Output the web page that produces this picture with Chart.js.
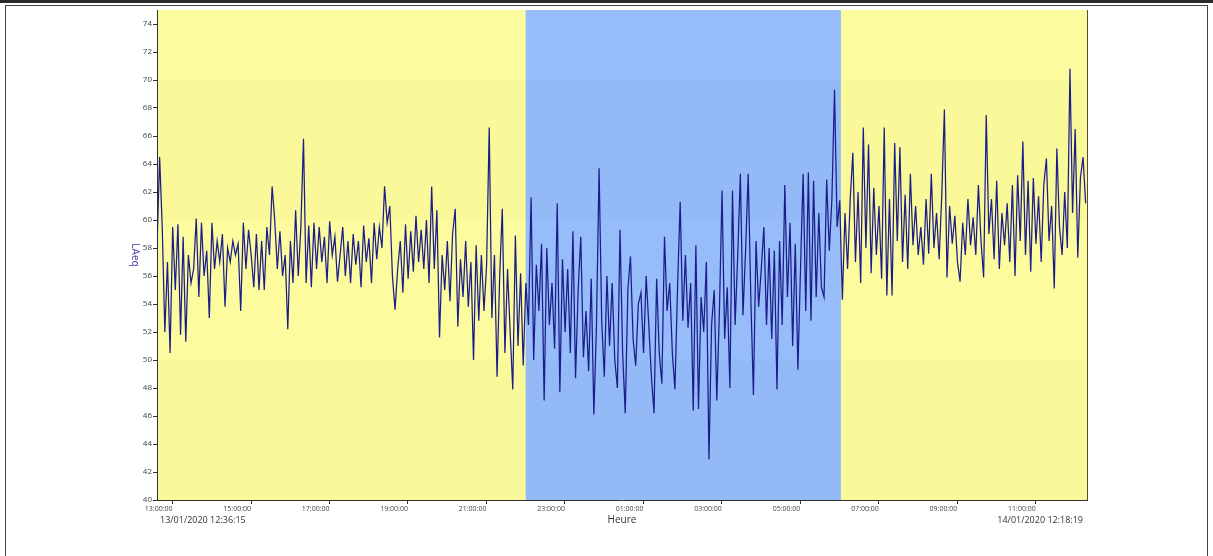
<!DOCTYPE html>
<html>
<head>
<meta charset="utf-8">
<script src="https://cdn.jsdelivr.net/npm/chart.js@4.4.0/dist/chart.umd.min.js"></script>
<style>
    html, body { margin: 0; padding: 0; background: #fff; }
    #wrap { position: relative; width: 1213px; height: 556px; overflow: hidden; }
    #barre { position: absolute; left: 0; top: 0; width: 1213px; height: 3px; background: #2b2b2b; }
    #cadre { position: absolute; left: 5px; top: 5px; width: 1201px; height: 600px; border: 1px solid #444; }
    canvas { position: absolute; left: 0; top: 0; }
</style>
</head>
<body>
<div id="wrap">
    <div id="barre"></div>
    <div id="cadre"></div>
    <canvas id="graphLAeq" width="1213" height="556"></canvas>
</div>
<script>
// Mesure LAeq du 13/01/2020 12:36:15 au 14/01/2020 12:18:19 (une valeur toutes les 4 min)
const debut = 12 * 3600 + 36 * 60 + 15;            // secondes depuis le 13/01 00:00
const fin = 24 * 3600 + 12 * 3600 + 18 * 60 + 19;
const pas = 240;

const laeqApresMidi = [
    58.0, 64.5, 59.5, 52.0, 57.0, 50.5, 59.5, 55.0, 59.7, 51.8,
    58.8, 51.3, 57.5, 55.5, 56.5, 60.1, 54.5, 59.8, 56.0, 57.8,
    53.0, 59.8, 56.5, 58.5, 57.0, 59.0, 53.8, 58.0, 57.0, 58.5,
    57.5, 58.3, 53.5, 59.8, 56.5, 59.3, 57.5, 55.2, 59.0, 55.0,
    58.5, 55.0, 59.5, 57.5, 62.4, 60.0, 56.5, 59.2, 56.0, 57.5,
    52.2, 58.5, 55.5, 60.7, 56.0, 59.5, 65.8, 55.5, 59.6, 55.2,
    59.8, 56.5, 59.5, 57.0, 58.8, 55.5, 59.9, 57.5, 58.8, 55.6
];
const laeqSoiree = [
    57.5, 59.5, 56.0, 58.5, 55.5, 59.0, 56.8, 58.5, 55.2, 59.6,
    57.0, 58.7, 55.5, 59.8, 57.2, 59.5, 58.0, 62.4, 59.8, 61.0,
    56.0, 53.6, 56.5, 58.5, 54.8, 59.7, 55.8, 59.2, 56.3, 60.3,
    57.0, 59.3, 56.5, 60.0, 55.5, 62.4, 56.5, 60.7, 51.6, 57.5,
    55.0, 58.5, 54.2, 59.0, 60.8, 52.4, 57.2, 54.5, 58.5, 53.8,
    57.0, 50.0, 58.2, 52.8, 57.5, 53.5, 56.8, 66.6, 53.0, 57.5,
    48.8, 56.0, 60.8, 50.5, 56.5, 52.0, 47.9, 58.9, 51.0, 56.2,
    49.6
];
const laeqNuit = [
    55.5, 52.5, 61.6, 50.0, 56.8, 53.5, 58.3, 47.1, 58.0, 52.5,
    55.5, 50.8, 61.2, 47.7, 57.2, 52.0, 56.5, 50.5, 59.2, 48.7,
    55.0, 58.8, 50.2, 53.5, 49.2, 55.8, 46.1, 52.5, 63.7, 52.8,
    48.8, 56.0, 51.0, 55.5, 50.0, 48.0, 59.3, 50.5, 46.2, 55.0,
    57.4, 51.5, 49.6, 54.0, 54.8, 50.5, 56.0, 52.5, 48.8, 46.2,
    55.8, 50.5, 48.3, 58.8, 53.5, 55.5, 50.5, 47.9, 55.2, 61.3,
    52.8, 57.5, 52.3, 55.5, 46.4, 58.2, 46.5, 54.5, 52.0, 57.0,
    42.9, 52.5, 55.0, 47.1, 53.5, 62.1, 51.5, 55.2, 48.0, 62.1,
    52.5, 57.5, 63.3, 53.2, 57.8, 63.3, 54.5, 47.5, 58.5, 53.8,
    56.5, 59.5, 52.5, 58.0, 51.5, 57.8, 47.9, 58.5, 52.5, 62.5,
    54.5, 59.8, 51.0, 58.3, 49.3, 56.5, 63.3, 53.5, 63.4, 52.8,
    62.8, 54.5, 60.5, 55.2, 54.5, 62.9, 57.8, 61.5, 69.3, 59.5,
    61.4
];
const laeqMatin = [
    54.3, 60.5, 56.5, 61.5, 64.8, 57.0, 62.0, 55.5, 66.6, 58.0,
    65.4, 56.2, 62.3, 57.5, 61.0, 55.8, 66.6, 54.6, 61.5, 54.6,
    65.5, 58.5, 65.2, 57.0, 61.8, 56.5, 63.3, 58.2, 61.0, 57.5,
    59.5, 56.8, 61.5, 57.6, 63.3, 58.0, 60.5, 57.2, 61.8, 67.9,
    55.9, 61.0, 58.3, 60.3, 57.0, 55.6, 59.8, 57.5, 61.5, 58.2,
    60.2, 57.5, 62.5, 58.5, 55.9, 67.5, 59.0, 61.5, 57.2, 62.8,
    56.5, 60.5, 58.2, 61.2, 57.0, 62.5, 56.0, 63.2, 58.5, 65.6,
    57.5, 62.8, 56.3, 63.0, 58.3, 61.7, 57.0, 62.5, 64.4, 58.5,
    61.0, 55.1, 65.1, 59.5, 57.5, 62.0, 58.0, 70.8, 60.5, 66.5,
    57.3, 63.0, 64.5, 61.2
];

const heuresX = ['13:00:00', '15:00:00', '17:00:00', '19:00:00', '21:00:00', '23:00:00',
                 '01:00:00', '03:00:00', '05:00:00', '07:00:00', '09:00:00', '11:00:00'];
const valeursY = [40, 42, 44, 46, 48, 50, 52, 54, 56, 58, 60, 62, 64, 66, 68, 70, 72, 74];
const nuit = [22 * 3600, 30 * 3600 + 120];   // 22:00 -> 06:00

const police = '"Open Sans", "Liberation Sans", sans-serif';

// heure texte -> secondes depuis le 13/01 00:00
function enSecondes(h) {
    let heure = parseInt(h.substr(0, 2), 10);
    if (heure < 12) heure += 24;
    return heure * 3600;
}

const mesures = laeqApresMidi.concat(laeqSoiree, laeqNuit, laeqMatin);
const points = mesures.map((v, i) => ({ x: debut + i * pas, y: v }));

// fond jaune (jour) / bleu (nuit) avec bandes de 10 dB
const fondPlugin = {
    id: 'fond',
    beforeDraw(chart) {
        const { ctx, chartArea: a, scales: { x, y } } = chart;
        const xn1 = x.getPixelForValue(nuit[0]);
        const xn2 = x.getPixelForValue(nuit[1]);
        const bandes = [[40, 50, 0], [50, 60, 1], [60, 70, 0], [70, 75, 1]];
        ctx.save();
        bandes.forEach(b => {
            const y1 = y.getPixelForValue(b[1]);
            const y2 = y.getPixelForValue(b[0]);
            ctx.fillStyle = b[2] ? '#fcfc9e' : '#f9f99a';
            ctx.fillRect(a.left, y1, a.right - a.left, y2 - y1);
            ctx.fillStyle = b[2] ? '#96bcf9' : '#93baf6';
            ctx.fillRect(xn1, y1, xn2 - xn1, y2 - y1);
        });
        ctx.restore();
    }
};

// textes hors axes : dates de début/fin, titre vertical
const textesPlugin = {
    id: 'textes',
    afterDraw(chart) {
        const { ctx, chartArea: a } = chart;
        ctx.save();
        ctx.strokeStyle = '#5a4a3a';
        ctx.lineWidth = 1;
        ctx.beginPath();
        ctx.moveTo(a.right + 0.5, a.top);
        ctx.lineTo(a.right + 0.5, a.bottom);
        ctx.stroke();

        ctx.fillStyle = '#333';
        ctx.font = '9px ' + police;
        ctx.textBaseline = 'middle';
        ctx.textAlign = 'left';
        ctx.fillText('13/01/2020 12:36:15', a.left + 3, 520);
        ctx.textAlign = 'right';
        ctx.fillText('14/01/2020 12:18:19', a.right - 4, 520);

        ctx.translate(135, 255);
        ctx.rotate(Math.PI / 2);
        ctx.textAlign = 'center';
        ctx.fillStyle = '#3c3ca0';
        ctx.font = '10px ' + police;
        ctx.fillText('LAeq', 0, 0);
        ctx.restore();
    }
};

const ctx = document.getElementById('graphLAeq').getContext('2d');
new Chart(ctx, {
    type: 'line',
    data: {
        datasets: [{
            label: 'LAeq',
            data: points,
            borderColor: '#1c1c8a',
            borderWidth: 1.25,
            pointRadius: 0,
            tension: 0,
            fill: false
        }]
    },
    options: {
        responsive: false,
        animation: false,
        layout: { padding: { left: 127, right: 126, top: 10, bottom: 0 } },
        plugins: {
            legend: { display: false },
            tooltip: { enabled: false }
        },
        scales: {
            x: {
                type: 'linear',
                min: debut,
                max: fin,
                afterBuildTicks: s => { s.ticks = heuresX.map(h => ({ value: enSecondes(h) })); },
                afterFit: s => { s.height = 56; },
                grid: { drawOnChartArea: false, drawTicks: true, tickLength: 4, color: '#333' },
                border: { display: true, color: '#333' },
                ticks: {
                    align: 'end',
                    autoSkip: false,
                    maxRotation: 0,
                    padding: 1,
                    color: '#444',
                    font: { size: 7, family: police },
                    callback: (v, i) => heuresX[i]
                },
                title: {
                    display: true,
                    text: 'Heure',
                    color: '#333',
                    font: { size: 10, family: police },
                    padding: { top: 0, bottom: 30 }
                }
            },
            y: {
                min: 40,
                max: 75,
                afterBuildTicks: s => { s.ticks = valeursY.map(v => ({ value: v })); },
                afterFit: s => { s.width = 30; },
                grid: { drawOnChartArea: false, drawTicks: true, tickLength: 4, color: '#333' },
                border: { display: true, color: '#333' },
                ticks: {
                    padding: 1,
                    color: '#444',
                    font: { size: 8, family: police }
                }
            }
        }
    },
    plugins: [fondPlugin, textesPlugin]
});
</script>
</body>
</html>
